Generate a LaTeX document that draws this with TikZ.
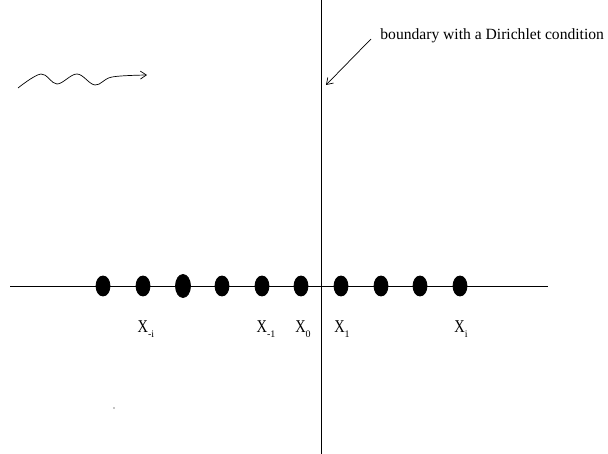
\documentclass[tikz,border=0pt]{standalone}
\usepackage{fontspec}
\setmainfont{Liberation Serif}
\usetikzlibrary{arrows.meta,calc,positioning,shapes.geometric}
\newcommand{\lowidx}[1]{\raisebox{-4.5pt}{\fontsize{10}{10}\selectfont #1}}
\newcommand{\bigX}{\scalebox{0.8}[1]{X}}

\begin{document}
\begin{tikzpicture}[
			x=1pt, y=-1pt,
			>={Straight Barb[length=6pt,width=8pt]},
			line width=0.8pt,
			site/.style={draw, fill, ellipse, inner sep=0pt, minimum width=14pt, minimum height=20pt},
			bigsite/.style={site, minimum width=15pt, minimum height=23pt},
			xlabel/.style={inner sep=0pt, font=\fontsize{18}{18}\selectfont},
			note/.style={inner xsep=9pt, inner ysep=0pt, anchor=west, font=\fontsize{15.6}{16}\selectfont},
			signal/.style={->, line width=0.7pt}
			]
			\useasboundingbox (0,0) rectangle (608,454);
			
			% axes
			\coordinate (top) at (321,0);
			\coordinate (bot) at (321,454);
			\coordinate (west) at (10,286);
			\coordinate (east) at (548,286);
			\draw (top) -- (bot);
			\draw (west) -- (east);
			
			% lattice sites
			\foreach \i/\x in {1/103,2/143,4/222,5/262,6/301,7/341,8/381,9/420,10/460}
				\node[site] (s\i) at (\x,286) {};
			\node[bigsite] (s3) at (183,286) {};
			
			\node[xlabel, below=24pt of s2, xshift=3pt] (lmi) {\bigX\lowidx{-i}};
			\node[xlabel, below=24pt of s5, xshift=4pt] (lm1) {\bigX\lowidx{-1}};
			\node[xlabel, below=24pt of s6, xshift=2pt] (l0) {\bigX\lowidx{0}};
			\node[xlabel, below=24pt of s7, xshift=1pt] (l1) {\bigX\lowidx{1}};
			\node[xlabel, below=24pt of s10, xshift=1pt] (li) {\bigX\lowidx{i}};
			
			% boundary note
			\node[note] (bdry) at (371,36) {boundary with a Dirichlet condition};
			\coordinate (hit) at (326,85);
			\draw[signal] ([yshift=-3pt]bdry.west) -- (hit);
			
			% incoming wave
			\draw[signal] plot[smooth, tension=0.6] coordinates {(18,88) (41,74) (57,84) (77,74) (95,85) (112,77) (147,75)};
			
			\fill (114,408) circle (0.7pt);
		\end{tikzpicture}
\end{document}
